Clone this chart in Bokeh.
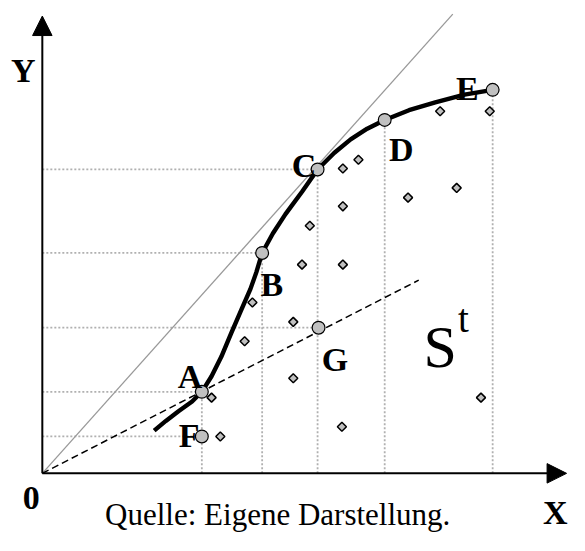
import numpy as np
from bokeh.plotting import figure
from bokeh.models import Range1d, Arrow, NormalHead, ColumnDataSource
from bokeh.core.properties import value
from bokeh.embed import file_html
from bokeh.resources import INLINE

# ---- data (abstract diagram units) ----
pt_labels = ["A", "B", "C", "D", "E", "F", "G"]
pt_x = [16.4, 22.6, 28.3, 35.2, 46.3, 16.4, 28.4]
pt_y = [8.4, 22.7, 31.3, 36.4, 39.5, 3.8, 15.0]

curve_x = [11.5, 12.7, 14.0, 15.4, 16.4, 17.4, 18.4, 19.4, 20.4, 21.4, 22.0, 22.6,
           23.7, 25.0, 26.7, 28.3, 30.0, 31.7, 33.4, 35.2, 37.7, 40.4, 43.4, 46.3]
curve_y = [4.4, 5.4, 6.4, 7.4, 8.4, 10.0, 12.0, 14.4, 16.7, 19.0, 20.7, 22.7,
           24.7, 26.7, 29.0, 31.3, 33.0, 34.4, 35.5, 36.4, 37.4, 38.2, 39.0, 39.5]

diag_x = [0, 42.2]
diag_y = [0, 47.3]
dash_x = [0, 38.7]
dash_y = [0, 19.9]

dia_x = [30.9, 32.5, 30.9, 27.5, 26.7, 30.9, 37.6, 42.6, 40.9, 46.0,
         21.6, 20.8, 17.4, 18.3, 25.8, 25.8, 30.8, 45.1]
dia_y = [31.4, 32.3, 27.5, 25.5, 21.5, 21.5, 28.4, 29.4, 37.3, 37.3,
         17.6, 13.6, 7.8, 3.8, 15.6, 9.8, 4.8, 7.8]

hline_pts = ["C", "B", "G", "A", "F"]
vline_pts = ["A", "B", "C", "D", "E"]

x_axis_end = 53.9
y_axis_end = 47.1
caption = "Quelle: Eigene Darstellung."

# ---- figure ----
p = figure(width=569, height=535, x_range=Range1d(-4.3, 54.2), y_range=Range1d(-6.4, 48.7),
           output_backend="svg", toolbar_location=None, min_border=0,
           x_axis_location=None, y_axis_location=None)
p.xgrid.visible = False
p.ygrid.visible = False
p.outline_line_color = None
p.background_fill_color = "white"
p.border_fill_color = "white"

idx = {k: i for i, k in enumerate(pt_labels)}
hx1 = [pt_x[idx[k]] for k in hline_pts]
hy = [pt_y[idx[k]] for k in hline_pts]
vx = [pt_x[idx[k]] for k in vline_pts]
vy1 = [pt_y[idx[k]] for k in vline_pts]

dot_style = dict(line_color="#b0b0b0", line_width=1.8, line_dash="2 2")
p.segment(x0=[0] * len(hx1), y0=hy, x1=hx1, y1=hy, **dot_style)
p.segment(x0=vx, y0=[0] * len(vx), x1=vx, y1=vy1, **dot_style)

p.line(diag_x, diag_y, line_color="#999999", line_width=1.3)
p.line(dash_x, dash_y, line_color="black", line_width=1.5, line_dash="7 4")

# axes with arrows
head = dict(size=19.5, fill_color="black", line_color="black")
p.add_layout(Arrow(end=NormalHead(**head), x_start=0, y_start=0, x_end=x_axis_end, y_end=0,
                   line_width=2, line_color="black"))
p.add_layout(Arrow(end=NormalHead(**head), x_start=0, y_start=0, x_end=0, y_end=y_axis_end,
                   line_width=2, line_color="black"))

p.line(curve_x, curve_y, line_color="black", line_width=4.4, line_join="round")

p.scatter(dia_x, dia_y, marker="square", angle=np.pi / 4, size=6.4,
          fill_color="#c0c0c0", line_color="black", line_width=1.5)

p.scatter(pt_x, pt_y, marker="circle", size=12.8, fill_color="#c0c0c0",
          line_color="black", line_width=1.2)

# point labels with pixel offsets
lab_dx = [-11.7, 9.7, -13.6, 16.5, -25.3, -12.6, 16.5]
lab_dy = [-15.6, 31.1, -3.9, 29.2, -1.0, -1.0, 32.1]
src = ColumnDataSource(dict(x=pt_x, y=pt_y, t=pt_labels, dx=lab_dx, dy=lab_dy))
serif = value("Liberation Serif")
p.text(x="x", y="y", text="t", x_offset="dx", y_offset="dy", source=src,
       text_font=serif, text_font_style="bold", text_font_size="34px",
       text_align="center", text_baseline="alphabetic", text_color="black")

# axis labels
p.text(x=[-1.95, 52.75, -1.15], y=[41.5, -4.0, -2.5], text=["Y", "X", "0"],
       text_font=serif, text_font_style="bold", text_font_size="34px",
       text_align="center", text_baseline="alphabetic", text_color="black")

# S^t
p.text(x=[40.9], y=[13.0], text=["S"], text_font=serif, text_font_size="60px",
       text_align="center", text_baseline="alphabetic", text_color="black")
p.text(x=[43.3], y=[16.0], text=["t"], text_font=serif, text_font_size="39px",
       text_align="center", text_baseline="alphabetic", text_color="black")

# caption
p.text(x=[24.2], y=[-4.2], text=[caption], text_font=serif, text_font_size="31px",
       text_align="center", text_baseline="alphabetic", text_color="black")

open("out.html", "w").write(file_html(p, INLINE))
